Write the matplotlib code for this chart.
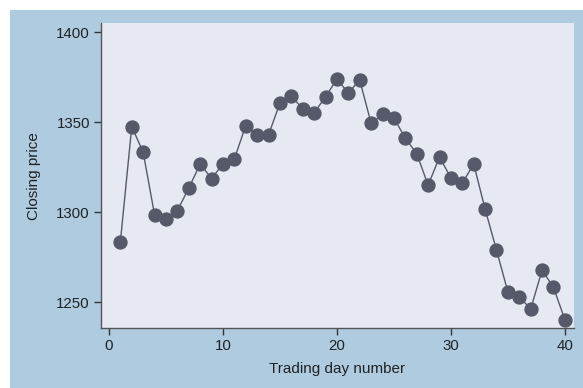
import numpy as np
import matplotlib.pyplot as plt
from matplotlib.patches import Rectangle

plt.rcParams['font.family'] = ['Liberation Sans', 'DejaVu Sans']

days = np.arange(1, 41)
close = [1283.5, 1347.6, 1333.3, 1298.5, 1296.3, 1300.9, 1313.3, 1326.8, 1318.7, 1326.8,
         1329.6, 1348.1, 1342.8, 1343.0, 1360.7, 1364.4, 1357.6, 1355.2, 1364.2, 1373.9,
         1366.3, 1373.5, 1349.4, 1354.4, 1352.4, 1341.1, 1332.6, 1315.0, 1330.6, 1319.1,
         1316.1, 1326.8, 1301.7, 1278.9, 1255.6, 1253.0, 1246.1, 1267.8, 1258.1, 1240.2]
yticks = [1250, 1300, 1350, 1400]
xticks = [0, 10, 20, 30, 40]

W, H = 583, 388
fig = plt.figure(figsize=(W / 100, H / 100), dpi=100)
fig.patch.set_facecolor('white')
fig.patches.append(Rectangle((10 / W, 0), 1, 1 - 10 / H, transform=fig.transFigure,
                             facecolor='#afcbe0', edgecolor='none', zorder=-10))

ax = fig.add_axes([101 / W, (H - 328.3) / H, (574 - 101) / W, (328.3 - 23) / H])
ax.set_facecolor('#e6e9f1')

ax.plot(days, close, color='#55596a', linewidth=1.0, marker='o', markersize=9.3,
        markerfacecolor='#55596a', markeredgecolor='#55596a')

ax.set_xlim(-0.7, 40.8)
ax.set_ylim(1235.4, 1405.2)
ax.set_xticks(xticks)
ax.set_yticks(yticks)

for s in ['top', 'right']:
    ax.spines[s].set_visible(False)
for s in ['left', 'bottom']:
    ax.spines[s].set_color('#555555')
    ax.spines[s].set_linewidth(1.0)

ax.tick_params(axis='both', direction='out', length=5, width=1, color='#333333',
               labelsize=10.8, labelcolor='#222222', pad=3)

ax.set_xlabel('Trading day number', fontsize=11, color='#222222', labelpad=6)
ax.set_ylabel('Closing price', fontsize=11, color='#222222', labelpad=11)

fig.savefig('out.png', dpi=100)
